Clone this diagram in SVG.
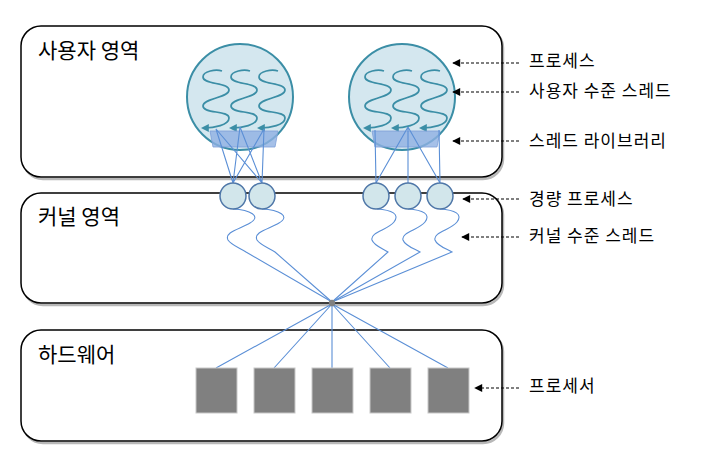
<svg xmlns="http://www.w3.org/2000/svg" width="701" height="459" viewBox="0 0 701 459">
<style>
  .box{fill:#fff;stroke:#000;stroke-width:1.5}
  .shadow{fill:none;stroke:#9a9a9a;stroke-width:2.5;opacity:0.7}
  .title{font-family:"Noto Sans CJK KR","Noto Sans",sans-serif;font-size:21px;fill:#000}
  .label{font-family:"Noto Sans CJK KR","Noto Sans",sans-serif;font-size:17px;letter-spacing:1px;fill:#000}
  .proc{fill:#d4e7ef;stroke:#3b8ea6;stroke-width:2}
  .thread{fill:none;stroke:#3b8ea6;stroke-width:1.7;marker-end:url(#tri)}
  .lib{fill:#8fb0e2;fill-opacity:0.8;stroke:#7d9fd8;stroke-width:0.8}
  .lwp{fill:#d2e6eb;stroke:#4f77a8;stroke-width:1.5}
  .wire{fill:none;stroke:#5b8fd6;stroke-width:1.1}
  .cpu{fill:#808080;stroke:#c8c8c8;stroke-width:1}
  .lead{fill:none;stroke:#000;stroke-width:1.1;stroke-dasharray:3 2;marker-end:url(#arr)}
</style>
<defs>
  <marker id="tri" viewBox="0 0 10 10" refX="6" refY="5" markerWidth="8" markerHeight="8" orient="auto" markerUnits="userSpaceOnUse">
    <path d="M0,0 L10,5 L0,10 Z" fill="#3b8ea6"/>
  </marker>
  <marker id="arr" viewBox="0 0 10 10" refX="9" refY="5" markerWidth="9" markerHeight="8" orient="auto" markerUnits="userSpaceOnUse">
    <path d="M0,0 L10,5 L0,10 Z" fill="#000"/>
  </marker>
  <g id="sq">
    <path class="thread" d="M6,-26 C0,-28 -13,-26 -13,-20 C-13,-12 13,-15 13,-7 C13,1 -13,1 -13,9 C-13,17 13,13 13,21 C13,28 -2,31 -12,31"/>
  </g>
</defs>

<!-- user space -->
<g id="user-space">
  <rect class="shadow" x="23" y="28" width="480" height="151" rx="20"/>
  <rect class="box" x="21" y="26" width="481" height="151" rx="20"/>
  <text class="title" x="38" y="58">사용자 영역</text>
</g>
<!-- kernel space -->
<g id="kernel-space">
  <rect class="shadow" x="23" y="195" width="480" height="110" rx="20"/>
  <rect class="box" x="21" y="193" width="481" height="110" rx="20"/>
  <text class="title" x="38" y="224">커널 영역</text>
</g>
<!-- hardware -->
<g id="hardware">
  <rect class="shadow" x="23" y="332" width="480" height="111" rx="20"/>
  <rect class="box" x="21" y="330" width="481" height="111" rx="20"/>
  <text class="title" x="38" y="362">하드웨어</text>
</g>

<!-- processes -->
<g id="process-1">
  <circle class="proc" cx="240" cy="97" r="53"/>
  <use href="#sq" x="216" y="97"/>
  <use href="#sq" x="244" y="97"/>
  <use href="#sq" x="272" y="97"/>
  <path class="lib" d="M210,131 L278,131 L275,147 L213,147 Z"/>
</g>
<g id="process-2">
  <circle class="proc" cx="402" cy="97" r="53"/>
  <use href="#sq" x="378" y="97"/>
  <use href="#sq" x="406" y="97"/>
  <use href="#sq" x="434" y="97"/>
  <path class="lib" d="M372,131 L440,131 L437,147 L375,147 Z"/>
</g>

<!-- connectors -->
<g id="connectors">
  <!-- threads to LWPs -->
  <path class="wire" d="M216,129 L233,183 M216,129 L262,183 M240,127 L233,183 M240,127 L262,183 M264,129 L233,183 M264,129 L262,183"/>
  <path class="wire" d="M375,130 L376,183 M408,127 L376,183 M408,127 L408,183 M408,127 L440,183 M439,130 L440,183"/>
  <!-- kernel threads -->
  <path class="wire" d="M233,209 C250,210 262,216 250,223 C240,229 224,232 228,240 C231,245 240,248 246,252 L332,302"/>
  <path class="wire" d="M262,209 C279,210 291,216 279,223 C269,229 253,232 257,240 C260,245 269,248 275,252 L332,302"/>
  <path class="wire" d="M377,209 C392,210 400,214 394,222 C388,230 370,232 372,240 C374,246 384,249 388,252 L332,302"/>
  <path class="wire" d="M408,209 C423,210 431,214 425,222 C419,230 401,232 403,240 C405,246 415,249 420,252 L332,302"/>
  <path class="wire" d="M440,209 C455,210 463,214 457,222 C451,230 433,232 435,240 C437,246 447,249 452,252 L332,302"/>
  <!-- to processors -->
  <path class="wire" d="M332,304 L216,368 M332,304 L274,368 M332,304 L332,368 M332,304 L390,368 M332,304 L448,368"/>
  <circle cx="332" cy="303" r="3.2" fill="#808080"/>
  <!-- label leaders -->
  <line class="lead" x1="519" y1="63" x2="453" y2="63"/>
  <line class="lead" x1="519" y1="92" x2="453" y2="92"/>
  <line class="lead" x1="519" y1="141" x2="453" y2="141"/>
  <line class="lead" x1="519" y1="199" x2="463" y2="199"/>
  <line class="lead" x1="519" y1="237" x2="462" y2="237"/>
  <line class="lead" x1="519" y1="388" x2="475" y2="388"/>
</g>

<!-- LWPs -->
<g id="lwp-1"><circle class="lwp" cx="233" cy="196" r="13"/></g>
<g id="lwp-2"><circle class="lwp" cx="262" cy="196" r="13"/></g>
<g id="lwp-3"><circle class="lwp" cx="376" cy="196" r="13"/></g>
<g id="lwp-4"><circle class="lwp" cx="408" cy="196" r="13"/></g>
<g id="lwp-5"><circle class="lwp" cx="440" cy="196" r="13"/></g>

<!-- processors -->
<g id="cpu-1"><rect class="cpu" x="196" y="368" width="41" height="45"/></g>
<g id="cpu-2"><rect class="cpu" x="254" y="368" width="41" height="45"/></g>
<g id="cpu-3"><rect class="cpu" x="312" y="368" width="41" height="45"/></g>
<g id="cpu-4"><rect class="cpu" x="370" y="368" width="41" height="45"/></g>
<g id="cpu-5"><rect class="cpu" x="428" y="368" width="41" height="45"/></g>

<!-- labels -->
<g id="labels">
  <text class="label" x="529" y="67">프로세스</text>
  <text class="label" x="529" y="97">사용자 수준 스레드</text>
  <text class="label" x="529" y="147">스레드 라이브러리</text>
  <text class="label" x="529" y="205">경량 프로세스</text>
  <text class="label" x="529" y="242">커널 수준 스레드</text>
  <text class="label" x="529" y="392">프로세서</text>
</g>
</svg>
